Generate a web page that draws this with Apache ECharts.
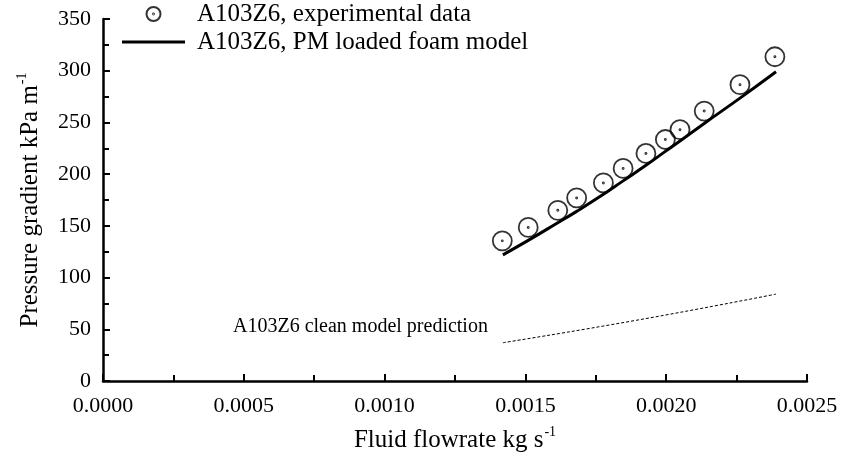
<!DOCTYPE html>
<html><head><meta charset="utf-8">
<script src="https://cdn.jsdelivr.net/npm/echarts@6/dist/echarts.min.js"></script>
<style>html,body{margin:0;padding:0;background:#fff}#c{width:841px;height:458px}</style>
</head><body><div id="c"></div>
<script>
// Data
const expFlow = [0.001418, 0.001510, 0.001615, 0.001682, 0.001777, 0.001847, 0.001928, 0.001997, 0.002049, 0.002135, 0.002262, 0.002386];
const expGrad = [135.5, 148.5, 165, 177, 191.5, 205.5, 220, 233.5, 243, 261, 286.5, 313.5];
const modelFlow = [0.00142, 0.00151, 0.001615, 0.001682, 0.001777, 0.001847, 0.001928, 0.001997, 0.002049, 0.002135, 0.002262, 0.00239];
const modelGrad = [122, 136, 153, 164, 180.5, 193.5, 208.5, 222, 232, 249, 273.5, 299];
const cleanFlow = [0.00142, 0.0019, 0.00239];
const cleanGrad = [37, 59, 84];
const xTicks = [0, 0.0005, 0.001, 0.0015, 0.002, 0.0025];
const yTicks = [0, 50, 100, 150, 200, 250, 300, 350];
const seriesNames = ['A103Z6, experimental data', 'A103Z6, PM loaded foam model'];
const annotation = 'A103Z6 clean model prediction';

const FONT = '"Liberation Serif", serif';
const zip = (a, b) => a.map((v, i) => [v, b[i]]);
const ringDot = 'path://M0,-10A10,10 0 1,1 0,10A10,10 0 1,1 0,-10ZM0,-0.6A0.6,0.6 0 1,1 0,0.6A0.6,0.6 0 1,1 0,-0.6Z';
const supRich = {
  a: {fontFamily: FONT, fontSize: 25, color: '#000', verticalAlign: 'bottom', lineHeight: 28},
  s: {fontFamily: FONT, fontSize: 14, color: '#000', verticalAlign: 'top', lineHeight: 28, padding: [0, 0, 14, 1]}
};

const chart = echarts.init(document.getElementById('c'), null, {renderer: 'canvas'});
chart.setOption({
  backgroundColor: '#fff',
  animation: false,
  grid: {left: 103, right: 34, top: 19, bottom: 72, containLabel: false},
  legend: {
    orient: 'vertical', left: 122, top: 0, padding: 0,
    itemWidth: 63, itemHeight: 14, itemGap: 0,
    textStyle: {fontFamily: FONT, fontSize: 25, color: '#000', lineHeight: 28, padding: [0, 0, 0, 7]},
    data: [
      {name: seriesNames[0]},
      {name: seriesNames[1], icon: 'path://M0,0H63V3H0Z', itemStyle: {color: '#000', borderWidth: 0}}
    ]
  },
  xAxis: {
    type: 'value', min: xTicks[0], max: xTicks[xTicks.length - 1], interval: 0.0005,
    name: '{a|Fluid flowrate kg s}{s|-1}', nameLocation: 'middle', nameGap: 44,
    nameTextStyle: {rich: supRich},
    axisLine: {show: true, lineStyle: {color: '#000', width: 2.5}},
    axisTick: {show: true, inside: true, length: 7, lineStyle: {color: '#000', width: 2}},
    minorTick: {show: true, splitNumber: 2, length: 6, lineStyle: {color: '#000', width: 2}},
    splitLine: {show: false},
    axisLabel: {fontFamily: FONT, fontSize: 22, color: '#000', margin: 14, formatter: v => v.toFixed(4)}
  },
  yAxis: {
    type: 'value', min: yTicks[0], max: yTicks[yTicks.length - 1], interval: 50,
    name: '{a|Pressure gradient kPa m}{s|-1}', nameLocation: 'middle', nameGap: 60, nameRotate: 90,
    nameTextStyle: {rich: supRich},
    axisLine: {show: true, lineStyle: {color: '#000', width: 2.5}},
    axisTick: {show: true, inside: true, length: 7, lineStyle: {color: '#000', width: 2}},
    minorTick: {show: true, splitNumber: 2, length: 6, lineStyle: {color: '#000', width: 2}},
    splitLine: {show: false},
    axisLabel: {fontFamily: FONT, fontSize: 22, color: '#000', margin: 12}
  },
  series: [
    {
      name: seriesNames[0], type: 'scatter', data: zip(expFlow, expGrad),
      symbol: ringDot, symbolSize: 19, z: 3,
      itemStyle: {color: 'rgba(0,0,0,0)', borderColor: '#000', borderWidth: 1.8}
    },
    {
      name: seriesNames[1], type: 'line', data: zip(modelFlow, modelGrad),
      symbol: 'none', smooth: true, lineStyle: {color: '#000', width: 3}, itemStyle: {color: '#000'}
    },
    {
      name: 'clean', type: 'line', data: zip(cleanFlow, cleanGrad),
      symbol: 'none', smooth: true, lineStyle: {color: '#000', width: 1, type: [3, 2]}, itemStyle: {color: '#000'}
    }
  ],
  graphic: [{
    type: 'text', left: 233, top: 317,
    style: {text: annotation, fontFamily: FONT, fontSize: 20, fill: '#000'}
  }]
});
</script></body></html>
